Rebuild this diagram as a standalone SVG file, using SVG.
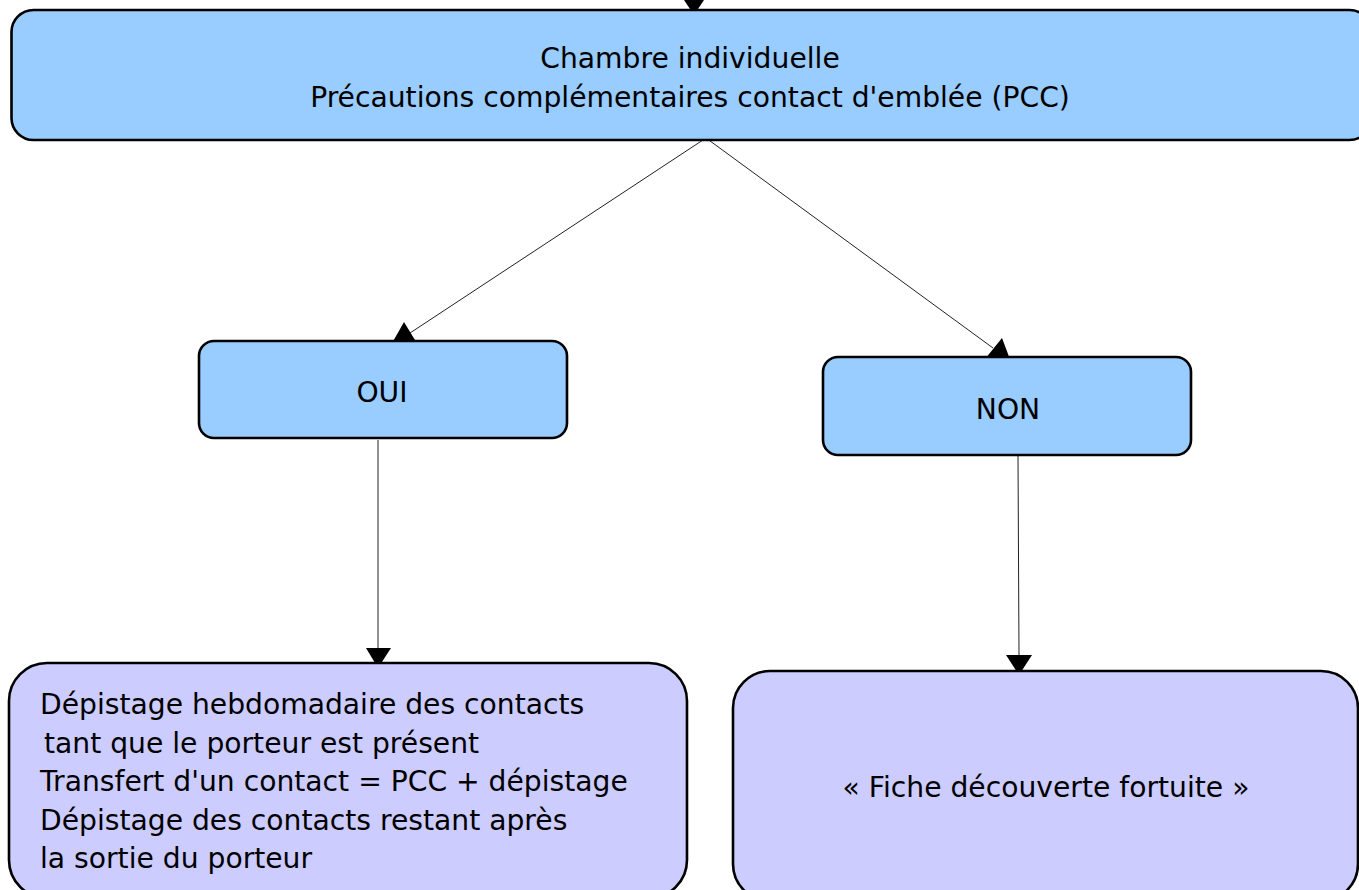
<svg xmlns="http://www.w3.org/2000/svg" width="1359" height="890" viewBox="0 0 1359 890">
<style>
.box{stroke:#000;stroke-width:2.6}
.blue{fill:#99CCFF}
.lav{fill:#CCCCFF}
.t{font-family:"DejaVu Sans",Verdana,sans-serif;font-size:28.2px;fill:#000}
.c{text-anchor:middle}
.ln{stroke:#222;stroke-width:1;fill:none}
.ah{fill:#000}
</style>
<rect width="1359" height="890" fill="#fff"/>
<g id="connectors">
<polygon class="ah" points="684,0 704,0 694,15"/>
<line class="ln" x1="706" y1="138" x2="410" y2="333"/>
<polygon class="ah" points="391,345 418,345 404,322"/>
<line class="ln" x1="706" y1="138" x2="993" y2="348"/>
<polygon class="ah" points="985,359 1011,362 1002,338"/>
<line class="ln" x1="378" y1="440" x2="378" y2="648"/>
<polygon class="ah" points="366,648 391,648 378,668"/>
<line class="ln" x1="1018" y1="455" x2="1019" y2="655"/>
<polygon class="ah" points="1006,655 1032,655 1019,675"/>
</g>
<g id="node-chambre">
<rect class="box blue" x="11.5" y="10" width="1360" height="130" rx="22"/>
<text class="t c" x="690" y="68">Chambre individuelle</text>
<text class="t c" x="690" y="106.5">Précautions complémentaires contact d'emblée (PCC)</text>
</g>
<g id="node-oui">
<rect class="box blue" x="199" y="341" width="368" height="97" rx="15"/>
<text class="t c" x="382" y="402">OUI</text>
</g>
<g id="node-non">
<rect class="box blue" x="823" y="357" width="368" height="98" rx="15"/>
<text class="t c" x="1008" y="419">NON</text>
</g>
<g id="node-depistage">
<rect class="box lav" x="9" y="663" width="678" height="235" rx="38"/>
<text class="t" x="40" y="714">Dépistage hebdomadaire des contacts</text>
<text class="t" x="44" y="752.5">tant que le porteur est présent</text>
<text class="t" x="40" y="791">Transfert d'un contact = PCC + dépistage</text>
<text class="t" x="40" y="829.5">Dépistage des contacts restant après</text>
<text class="t" x="40" y="868">la sortie du porteur</text>
</g>
<g id="node-fiche">
<rect class="box lav" x="733" y="671" width="625" height="230" rx="37"/>
<text class="t c" x="1046" y="797">« Fiche découverte fortuite »</text>
</g>
</svg>
